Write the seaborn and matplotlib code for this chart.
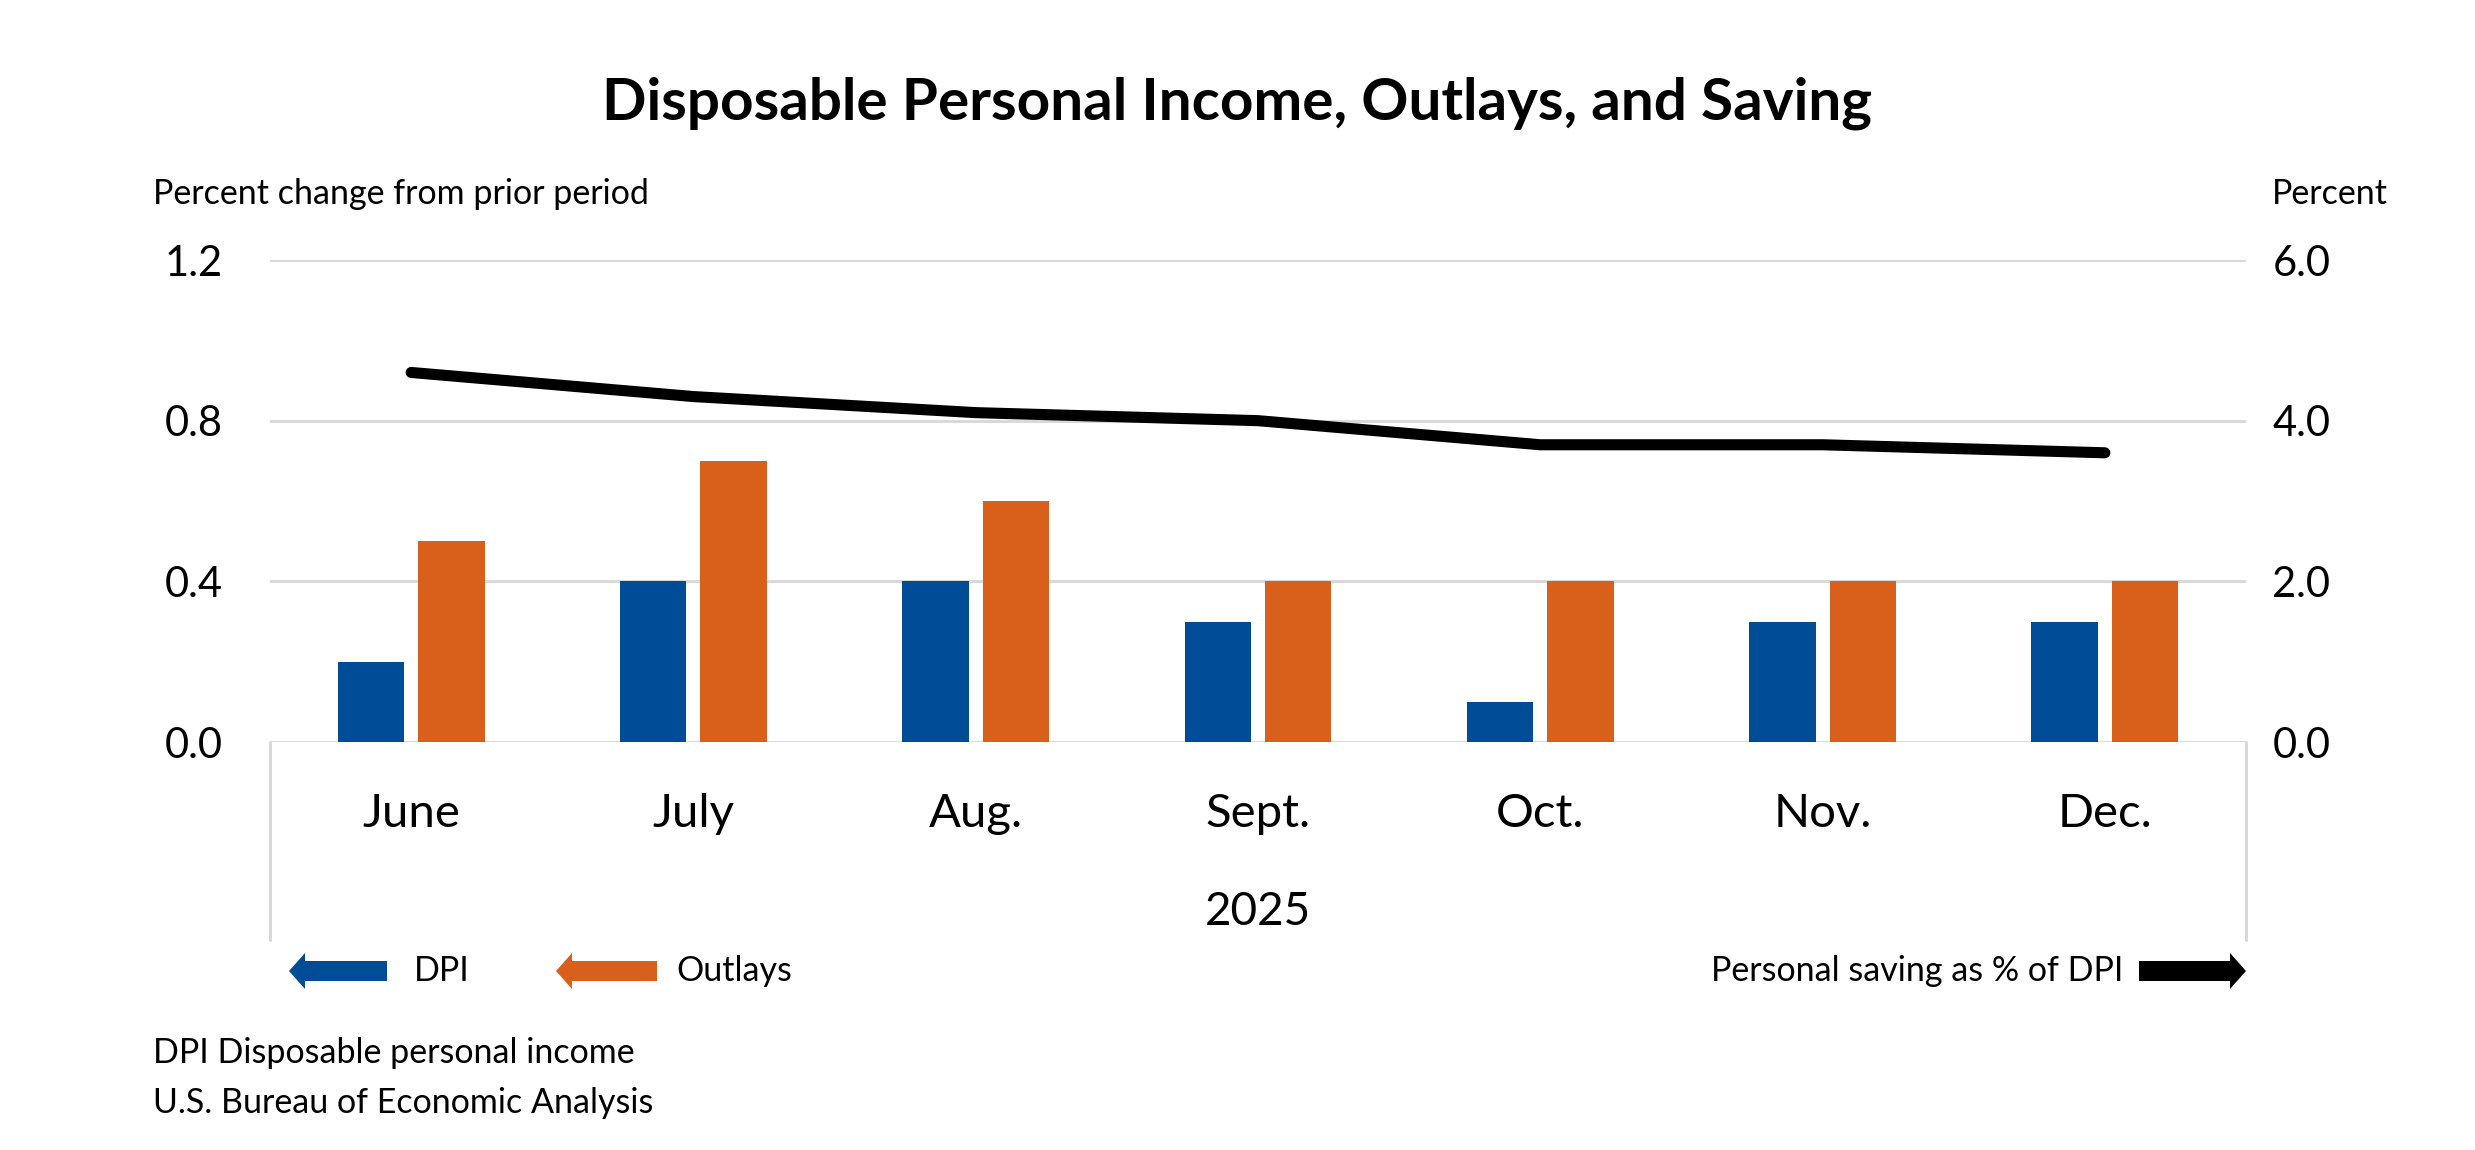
import numpy as np
import pandas as pd
import matplotlib
matplotlib.use("Agg")
import matplotlib.pyplot as plt
from matplotlib.patches import FancyArrow
import seaborn as sns

# Data
months = ["June", "July", "Aug.", "Sept.", "Oct.", "Nov.", "Dec."]
dpi = [0.2, 0.4, 0.4, 0.3, 0.1, 0.3, 0.3]
outlays = [0.5, 0.7, 0.6, 0.4, 0.4, 0.4, 0.4]
saving_rate = [4.6, 4.3, 4.1, 4.0, 3.7, 3.7, 3.6]
left_ticks = [0.0, 0.4, 0.8, 1.2]
right_ticks = [0.0, 2.0, 4.0, 6.0]

BLUE = "#004C97"
ORANGE = "#D9601A"
GRID = "#D9D9D9"

sns.set_style("white")
plt.rcParams["font.family"] = ["Lato", "DejaVu Sans"]
plt.rcParams["text.color"] = "black"
plt.rcParams["xtick.color"] = "black"
plt.rcParams["ytick.color"] = "black"

df = pd.DataFrame({
    "month": months * 2,
    "value": dpi + outlays,
    "series": ["DPI"] * len(months) + ["Outlays"] * len(months),
})

W, H = 2475, 1150
fig = plt.figure(figsize=(W / 100, H / 100), dpi=100)

# main axes placed in pixel terms
left, right, top, bottom = 270, 2246, 260, 742
ax = fig.add_axes([left / W, 1 - bottom / H, (right - left) / W, (bottom - top) / H])

sns.barplot(data=df, x="month", y="value", hue="series",
            palette={"DPI": BLUE, "Outlays": ORANGE}, saturation=1,
            width=0.57, gap=0.175, linewidth=0, legend=False, ax=ax)

ax.set_ylim(0, 1.2)
ax.set_yticks(left_ticks)
ax.set_yticklabels([f"{t:.1f}" for t in left_ticks])
ax.set_xlabel("")
ax.set_ylabel("")
ax.set_axisbelow(True)
ax.yaxis.grid(True, color=GRID, linewidth=2.2)
for s in ax.spines.values():
    s.set_visible(False)
ax.tick_params(axis="y", length=0, pad=34, labelsize=30)
ax.tick_params(axis="x", length=0, pad=37, labelsize=34)

# Saving rate line on right axis
ax2 = ax.twinx()
sns.lineplot(x=np.arange(len(months)), y=saving_rate, color="black",
             linewidth=8, ax=ax2, solid_capstyle="round")
ax2.set_ylim(0, 6)
ax2.set_yticks(right_ticks)
ax2.set_yticklabels([f"{t:.1f}" for t in right_ticks])
ax2.set_ylabel("")
for s in ax2.spines.values():
    s.set_visible(False)
ax2.tick_params(axis="y", length=0, pad=19, labelsize=30)
ax.set_xlim(-0.5, len(months) - 0.5)

# category box below the axis
box_depth = (940 - bottom) / (bottom - top)
for xpos in (0, 1):
    ax.plot([xpos, xpos], [0, -box_depth], transform=ax.transAxes,
            color=GRID, linewidth=2.2, clip_on=False)
ax.text(0.5, -(912 - bottom) / (bottom - top), "2025", transform=ax.transAxes,
        ha="center", va="center", fontsize=33)

# figure-level texts
small = 24.5
fig.text(0.5, 1 - 103 / H, "Disposable Personal Income, Outlays, and Saving",
         ha="center", va="center", fontsize=42, fontweight="bold")
fig.text(153 / W, 1 - 194 / H, "Percent change from prior period",
         ha="left", va="center", fontsize=small)
fig.text(2388 / W, 1 - 194 / H, "Percent", ha="right", va="center", fontsize=small)
fig.text(153 / W, 1 - 1053 / H, "DPI Disposable personal income",
         ha="left", va="center", fontsize=small)
fig.text(153 / W, 1 - 1103 / H, "U.S. Bureau of Economic Analysis",
         ha="left", va="center", fontsize=small)

# legend with arrows, drawn on an overlay in pixel units
ov = fig.add_axes([0, 0, 1, 1])
ov.set_xlim(0, W)
ov.set_ylim(H, 0)
ov.axis("off")
ov.patch.set_alpha(0)
ly = 971
ov.add_patch(FancyArrow(387, ly, -98, 0, width=20, head_width=36, head_length=16,
                        length_includes_head=True, color=BLUE, linewidth=0))
ov.text(414, ly, "DPI", ha="left", va="center", fontsize=small)
ov.add_patch(FancyArrow(657, ly, -101, 0, width=20, head_width=36, head_length=16,
                        length_includes_head=True, color=ORANGE, linewidth=0))
ov.text(676, ly, "Outlays", ha="left", va="center", fontsize=small)
ov.add_patch(FancyArrow(2139, ly, 107, 0, width=20, head_width=36, head_length=16,
                        length_includes_head=True, color="black", linewidth=0))
ov.text(2123, ly, "Personal saving as % of DPI", ha="right", va="center", fontsize=small)

fig.savefig("out.png", dpi=100, facecolor="white")
